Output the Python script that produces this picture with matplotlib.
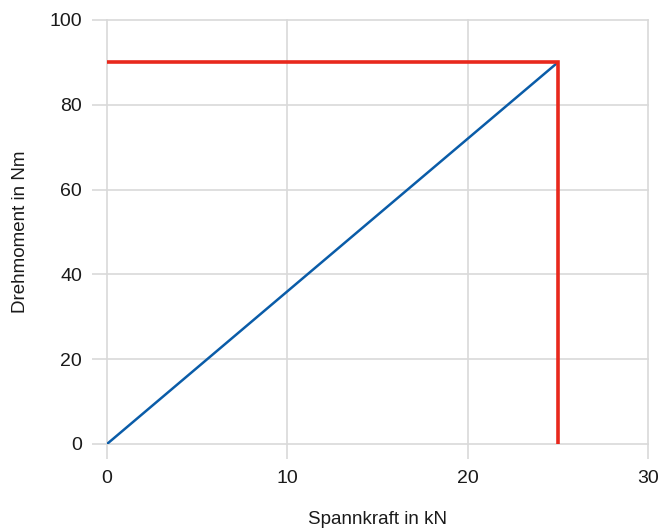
import matplotlib
matplotlib.use("Agg")
import matplotlib.pyplot as plt
from matplotlib import font_manager

# Kennlinie Drehmoment über Spannkraft
spannkraft = [0, 25]
drehmoment = [0, 90]

# Grenzwerte (Nennpunkt)
grenz_kraft = 25
grenz_moment = 90

x_ticks = [0, 10, 20, 30]
y_ticks = [0, 20, 40, 60, 80, 100]

names = {f.name for f in font_manager.fontManager.ttflist}
family = "Liberation Sans Narrow" if "Liberation Sans Narrow" in names else "Liberation Sans"
plt.rcParams["font.family"] = [family, "DejaVu Sans"]

fig = plt.figure(figsize=(6.61, 5.31), dpi=100)
ax = fig.add_axes([107 / 661, 1 - 444 / 531, 541 / 661, 424 / 531])

grid_col = "#d9d9d9"
txt_col = "#1a1a1a"
ax.plot(spannkraft, drehmoment, color="#0a5ca8", lw=1.8, zorder=3, solid_capstyle="butt")
ax.plot([0, grenz_kraft, grenz_kraft], [grenz_moment, grenz_moment, 0],
        color="#e8281c", lw=2.6, zorder=4, solid_joinstyle="miter", solid_capstyle="butt")

ax.set_xlim(0, 30)
ax.set_ylim(0, 100)
ax.set_xticks(x_ticks)
ax.set_yticks(y_ticks)
ax.grid(True, color=grid_col, lw=1.2, zorder=0)
for gl in ax.get_xgridlines() + ax.get_ygridlines():
    gl.set_clip_on(False)
ax.set_axisbelow(True)
for s in ax.spines.values():
    s.set_visible(False)
ax.tick_params(axis="both", length=11, width=1.2, color=grid_col, labelsize=14,
               labelcolor=txt_col)
ax.tick_params(axis="y", pad=7)
ax.tick_params(axis="x", pad=8)

ax.set_xlabel("Spannkraft in kN", fontsize=13.5, color=txt_col, labelpad=17)
ax.set_ylabel("Drehmoment in Nm", fontsize=13.5, color=txt_col, labelpad=15)

fig.savefig("out.png", dpi=100)
